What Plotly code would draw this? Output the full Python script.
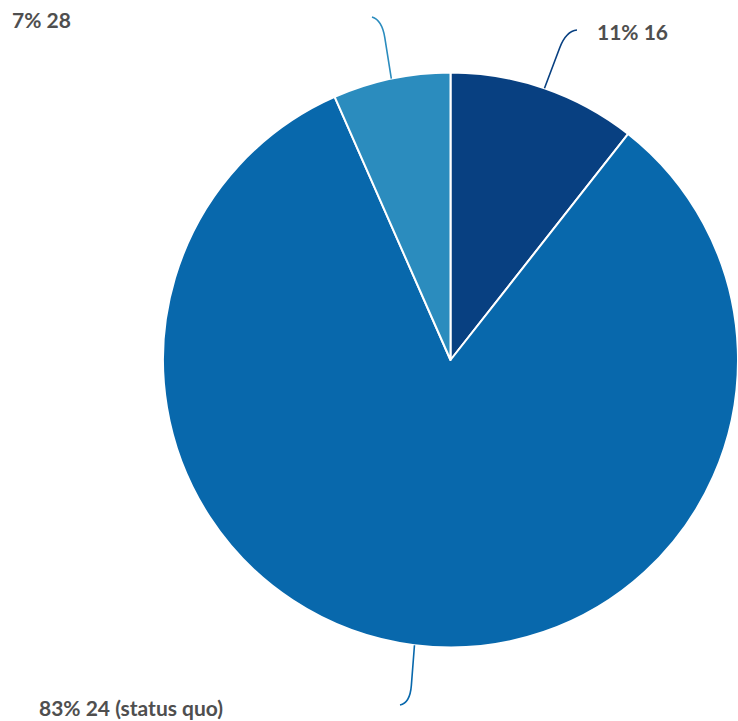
import math
import plotly.graph_objects as go

# ---- data ----
categories = ["16", "24 (status quo)", "28"]
values = [10.6, 82.8, 6.6]
colors = ["#084081", "#0868ac", "#2b8cbe"]

# ---- layout constants (pixels) ----
W, H = 738, 721
left_px = 163
top_px, bot_px = 71, 649
cx = (left_px + W) / 2.0
cy = (top_px + bot_px) / 2.0
R = min(W - left_px, bot_px - top_px) / 2.0

def px(x):
    return x / W

def py(y):
    return 1 - y / H

fig = go.Figure(go.Pie(
    labels=categories,
    values=values,
    sort=False,
    direction="clockwise",
    rotation=0,
    marker=dict(colors=colors, line=dict(color="white", width=2)),
    textinfo="none",
    hoverinfo="label+percent",
    domain=dict(x=[left_px / W, 1.0], y=[1 - bot_px / H, 1 - top_px / H]),
    showlegend=False,
))

total = sum(values)
label_pos = [(595, 32), (37, 707), (10, 20)]
leader_end = [(577, 30), (400, 705), (372, 17)]
leader_ctrl = [(566, 31), (410, 703), (382, 20)]

shapes = []
annotations = []
cum = 0.0
for i, (cat, v) in enumerate(zip(categories, values)):
    mid = (cum + v / 2) / total * 2 * math.pi
    cum += v
    sx = cx + R * math.sin(mid)
    sy = cy - R * math.cos(mid)
    ex, ey = leader_end[i]
    qx, qy = leader_ctrl[i]
    mx = sx + (qx - sx) * 0.7
    my = sy + (qy - sy) * 0.7
    path = (f"M {px(sx)},{py(sy)} L {px(mx)},{py(my)} "
            f"Q {px(qx)},{py(qy)} {px(ex)},{py(ey)}")
    shapes.append(dict(type="path", path=path, xref="paper", yref="paper",
                       line=dict(color=colors[i], width=1.6)))
    lx, ly = label_pos[i]
    pct = round(v / total * 100)
    annotations.append(dict(
        text=f"<b>{pct}% {cat}</b>", x=px(lx), y=py(ly), xref="paper", yref="paper",
        xanchor="left", yanchor="middle", showarrow=False,
        font=dict(family="Lato, 'Open Sans', sans-serif", size=21, color="#4f4f4f"),
    ))

fig.update_layout(
    width=W, height=H,
    margin=dict(l=0, r=0, t=0, b=0),
    paper_bgcolor="white",
    plot_bgcolor="white",
    shapes=shapes,
    annotations=annotations,
)

fig.write_html(
    "out.html",
    config={"displayModeBar": False},
    post_script="document.body.style.margin='0';document.body.style.overflow='hidden';",
)
